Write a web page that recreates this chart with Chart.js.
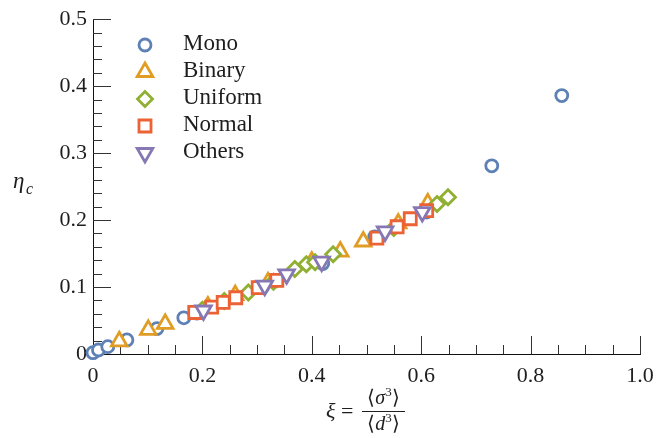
<!DOCTYPE html>
<html>
<head>
<meta charset="utf-8">
<script src="https://cdn.jsdelivr.net/npm/chart.js@4/dist/chart.umd.min.js"></script>
<style>
  html, body { margin: 0; padding: 0; background: #fff; }
  #wrap { width: 671px; height: 438px; position: relative; }
</style>
</head>
<body>
<div id="wrap"><canvas id="c" width="671" height="438"></canvas></div>
<script>
// ---- data ----
const seriesNames = ['Mono', 'Binary', 'Uniform', 'Normal', 'Others'];

const monoX = [0.000, 0.010, 0.027, 0.062, 0.117, 0.166, 0.190, 0.310, 0.420, 0.515, 0.610, 0.729, 0.857];
const monoY = [0.002, 0.006, 0.011, 0.021, 0.038, 0.054, 0.061, 0.100, 0.135, 0.175, 0.212, 0.281, 0.386];

const binaryX = [0.048, 0.101, 0.132, 0.210, 0.260, 0.320, 0.400, 0.452, 0.494, 0.558, 0.612];
const binaryY = [0.019, 0.036, 0.045, 0.071, 0.088, 0.107, 0.138, 0.153, 0.168, 0.195, 0.225];

const uniformX = [0.200, 0.240, 0.284, 0.330, 0.369, 0.390, 0.406, 0.439, 0.550, 0.629, 0.649];
const uniformY = [0.066, 0.079, 0.092, 0.108, 0.127, 0.134, 0.137, 0.149, 0.188, 0.224, 0.234];

const normalX = [0.186, 0.217, 0.238, 0.261, 0.302, 0.336, 0.519, 0.556, 0.580, 0.610];
const normalY = [0.062, 0.070, 0.077, 0.084, 0.099, 0.110, 0.173, 0.190, 0.202, 0.214];

const othersX = [0.202, 0.314, 0.354, 0.418, 0.534, 0.602];
const othersY = [0.065, 0.102, 0.119, 0.138, 0.183, 0.212];

const xTickValues = [0, 0.2, 0.4, 0.6, 0.8, 1.0];
const xTickLabels = ['0', '0.2', '0.4', '0.6', '0.8', '1.0'];
const yTickValues = [0, 0.1, 0.2, 0.3, 0.4, 0.5];
const yTickLabels = ['0', '0.1', '0.2', '0.3', '0.4', '0.5'];
const xMinorStep = 0.05;
const yMinorStep = 0.02;

// ---- styling ----
const colors = ['#5E81B5', '#E19C24', '#8FB032', '#EB6235', '#8778B3'];
const styles = [
  { pointStyle: 'circle', radius: 6, rotation: 0 },
  { pointStyle: 'triangle', radius: 9, rotation: 0 },
  { pointStyle: 'rectRot', radius: 7.5, rotation: 0 },
  { pointStyle: 'rect', radius: 8.5, rotation: 0 },
  { pointStyle: 'triangle', radius: 9, rotation: 180 }
];
const markerStroke = 2.8;
const serif = '"Liberation Serif", "Times New Roman", serif';
const textColor = '#1e1e1e';

function toPoints(xs, ys) { return xs.map((x, i) => ({ x: x, y: ys[i] })); }
const allX = [monoX, binaryX, uniformX, normalX, othersX];
const allY = [monoY, binaryY, uniformY, normalY, othersY];

const datasets = seriesNames.map((name, i) => ({
  label: name,
  data: toPoints(allX[i], allY[i]),
  pointStyle: styles[i].pointStyle,
  pointRadius: styles[i].radius,
  pointHoverRadius: styles[i].radius,
  pointRotation: styles[i].rotation,
  pointBorderWidth: markerStroke,
  pointBorderColor: colors[i],
  pointBackgroundColor: '#ffffff',
  showLine: false,
  clip: false,
  order: seriesNames.length - i
}));

function drawMarker(ctx, st, color, x, y) {
  ctx.save();
  ctx.strokeStyle = color;
  ctx.fillStyle = '#ffffff';
  ctx.lineWidth = markerStroke;
  if (Chart.helpers && Chart.helpers.drawPoint) {
    Chart.helpers.drawPoint(ctx, { pointStyle: st.pointStyle, radius: st.radius, rotation: st.rotation, borderWidth: markerStroke }, x, y);
  }
  ctx.restore();
}

const axesPlugin = {
  id: 'axesTicks',
  beforeDatasetsDraw(chart) {
    const { ctx, scales: { x, y } } = chart;
    ctx.save();
    ctx.strokeStyle = '#333';
    ctx.lineWidth = 1;
    const bottom = y.getPixelForValue(0);
    const left = x.getPixelForValue(0);
    const nx = Math.round((x.max - x.min) / xMinorStep);
    for (let i = 0; i <= nx; i++) {
      const v = x.min + i * xMinorStep;
      const isMajor = xTickValues.some(t => Math.abs(t - v) < 1e-9);
      if (Math.abs(v) < 1e-9) continue;
      const px = Math.round(x.getPixelForValue(v)) + 0.5;
      ctx.beginPath();
      ctx.moveTo(px, bottom);
      ctx.lineTo(px, bottom - (isMajor ? 18 : 9));
      ctx.stroke();
    }
    const ny = Math.round((y.max - y.min) / yMinorStep);
    for (let i = 0; i <= ny; i++) {
      const v = y.min + i * yMinorStep;
      const isMajor = yTickValues.some(t => Math.abs(t - v) < 1e-9);
      if (Math.abs(v) < 1e-9) continue;
      const py = Math.round(y.getPixelForValue(v)) + 0.5;
      ctx.beginPath();
      ctx.moveTo(left, py);
      ctx.lineTo(left + (isMajor ? 18 : 9), py);
      ctx.stroke();
    }
    ctx.restore();
  },
  afterDraw(chart) {
    const { ctx } = chart;
    ctx.save();
    // legend
    const lx = 145, tx = 183, ly0 = 45, dy = 27;
    seriesNames.forEach((name, i) => {
      const yy = ly0 + i * dy;
      drawMarker(ctx, styles[i], colors[i], lx, yy);
      ctx.fillStyle = textColor;
      ctx.font = '23px ' + serif;
      ctx.textAlign = 'left';
      ctx.textBaseline = 'middle';
      ctx.fillText(name, tx, yy - 1);
    });

    // y-axis title: eta_c
    ctx.fillStyle = textColor;
    ctx.textAlign = 'left';
    ctx.textBaseline = 'alphabetic';
    ctx.font = 'italic 23px ' + serif;
    ctx.fillText('η', 13, 188);
    ctx.font = 'italic 16px ' + serif;
    ctx.fillText('c', 26, 194);

    // x-axis title: xi = <sigma^3>/<d^3>
    const lineY = 411;
    ctx.font = 'italic 22px ' + serif;
    ctx.fillText('ξ', 326, 418);
    ctx.font = '22px ' + serif;
    ctx.fillText('=', 341, 418);
    const fx0 = 362, fx1 = 405, fc = (fx0 + fx1) / 2;
    ctx.strokeStyle = textColor;
    ctx.lineWidth = 1;
    ctx.beginPath();
    ctx.moveTo(fx0, lineY + 0.5);
    ctx.lineTo(fx1, lineY + 0.5);
    ctx.stroke();
    function drawPart(parts, cx, baseline) {
      let w = 0;
      parts.forEach(p => { ctx.font = p.f; w += ctx.measureText(p.t).width; });
      let xx = cx - w / 2;
      parts.forEach(p => {
        ctx.font = p.f;
        ctx.fillText(p.t, xx, baseline + (p.dy || 0));
        xx += ctx.measureText(p.t).width;
      });
    }
    drawPart([
      { t: '⟨', f: '20px ' + serif },
      { t: 'σ', f: 'italic 20px ' + serif },
      { t: '3', f: '13px ' + serif, dy: -8 },
      { t: '⟩', f: '20px ' + serif }
    ], fc, 404);
    drawPart([
      { t: '⟨', f: '20px ' + serif },
      { t: 'd', f: 'italic 20px ' + serif },
      { t: '3', f: '13px ' + serif, dy: -8 },
      { t: '⟩', f: '20px ' + serif }
    ], fc, 430);
    ctx.restore();
  }
};

new Chart(document.getElementById('c'), {
  type: 'scatter',
  data: { datasets: datasets },
  options: {
    responsive: false,
    animation: false,
    events: [],
    layout: { padding: { left: 0, top: 15, right: 31, bottom: 0 } },
    plugins: { legend: { display: false }, tooltip: { enabled: false } },
    scales: {
      x: {
        type: 'linear',
        min: 0, max: 1,
        afterFit: s => { s.height = 84; },
        afterBuildTicks: s => { s.ticks = xTickValues.map(v => ({ value: v })); },
        grid: { display: false, drawTicks: false },
        border: { display: true, color: '#111', width: 1 },
        ticks: {
          padding: 9,
          color: textColor,
          font: { family: serif, size: 22 },
          maxRotation: 0,
          autoSkip: false,
          callback: (v, i) => xTickLabels[i]
        }
      },
      y: {
        type: 'linear',
        min: 0, max: 0.5,
        afterFit: s => { s.width = 93; },
        afterBuildTicks: s => { s.ticks = yTickValues.map(v => ({ value: v })); },
        grid: { display: false, drawTicks: false },
        border: { display: true, color: '#111', width: 1 },
        ticks: {
          padding: 6,
          color: textColor,
          font: { family: serif, size: 22 },
          autoSkip: false,
          callback: (v, i) => yTickLabels[i]
        }
      }
    }
  },
  plugins: [axesPlugin]
});
</script>
</body>
</html>
